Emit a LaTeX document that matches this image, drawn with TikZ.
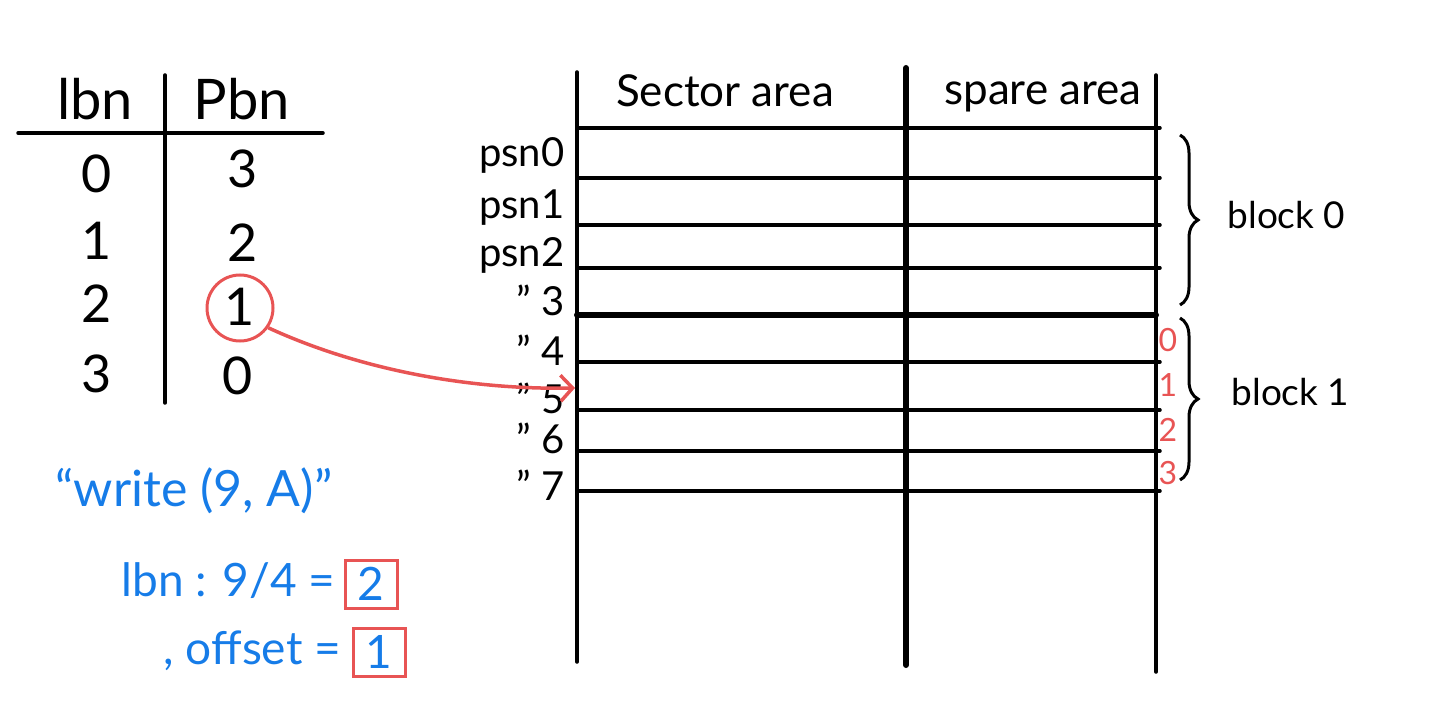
\documentclass[tikz,border=0pt]{standalone}
\usepackage{fontspec}
\setmainfont{Lato}
\usetikzlibrary{decorations.pathreplacing,arrows.meta}
\definecolor{penred}{RGB}{232,84,84}
\definecolor{penblue}{RGB}{22,124,232}
\tikzset{
  ink/.style={line width=3.5pt,line cap=round},
  big/.style={font=\fontsize{56}{60}\selectfont,anchor=base},
  digit/.style={font=\fontsize{52}{56}\selectfont,anchor=base},
  mid/.style={font=\fontsize{44}{48}\selectfont,anchor=base},
  small/.style={font=\fontsize{40}{44}\selectfont},
  blocklabel/.style={font=\fontsize{37}{40}\selectfont,anchor=west},
  rednum/.style={text=penred,font=\fontsize{32}{34}\selectfont},
  bluetext/.style={text=penblue,font=\fontsize{46}{50}\selectfont,anchor=base west},
  redbox/.style={draw=penred,line width=3pt,minimum width=52pt,minimum height=48pt,inner sep=0pt},
  curly/.style={line width=3pt,decorate,decoration={brace,amplitude=18pt}}
}
\begin{document}
\begin{tikzpicture}[x=1pt,y=-1pt]
        \useasboundingbox (0,0) rectangle (1440,719);%
        % mapping table
        \node[big] (lbn) at (95,120) {lbn};%
        \node[big] (pbn) at (242,120) {Pbn};%
        \draw[ink] (18,133) -- (323,133);%
        \draw[ink] (165,75) -- (165,403);%
        \node[digit] (l0) at (97,193) {0};%
        \node[digit] (p0) at (243,188) {3};%
        \node[digit] (l1) at (97,260) {1};%
        \node[digit] (p1) at (243,262) {2};%
        \node[digit] (l2) at (97,322) {2};%
        \node[digit] (p2) at (240,326) {1};%
        \node[digit] (l3) at (97,392) {3};%
        \node[digit] (p3) at (238,394) {0};%
        \node[circle,draw=penred,line width=3pt,minimum size=66pt] (hit) at (240,308) {};%
        % sector grid
        \draw[ink] (577,72) -- (577,662);%
        \draw[ink,line width=6pt] (906,68) -- (906,665);%
        \draw[ink] (1156,75) -- (1156,672);%
        \foreach \y in {128,178,225,268,362,410,451,491}
          \draw[ink] (577,\y) -- (1160,\y);%
        \draw[ink,line width=6pt] (577,315) -- (1156,315);%
        \node[mid] (sector) at (725,107) {Sector area};%
        \node[mid] (spare) at (1043,105) {spare area};%
        % psn labels
        \foreach \y/\t [count=\i from 0] in {155/psn0,208/psn1,255/psn2,300/{" 3},350/{" 4},398/{" 5},438/{" 6},485/{" 7}}
          \node[small,anchor=east] (psn\i) at (568,\y) {\t};%
        \foreach \y [count=\i from 0] in {340,385,430,473}
          \node[rednum] (off\i) at (1168,\y) {\i};%
        % blocks
        \coordinate (b0top) at (1180,135);%
        \coordinate (b0bot) at (1180,305);%
        \coordinate (b1top) at (1180,318);%
        \coordinate (b1bot) at (1180,480);%
        \draw[curly] (b0top) -- (b0bot);%
        \draw[curly] (b1top) -- (b1bot);%
        \node[blocklabel] (block0) at (1224,215) {block 0};%
        \node[blocklabel] (block1) at (1228,392) {block 1};%
        % arrow
        \coordinate (target) at (575,388);%
        \draw[penred,line width=3.5pt,-{Straight Barb[length=12pt,width=26pt]}] (hit.-35) .. controls (360,370) and (470,390) .. (target);%
        % write request
        \node[bluetext,font=\fontsize{50}{54}\selectfont] (req) at (52,506) {“write (9, A)”};%
        \node[bluetext] (calc) at (118,596) {lbn : 9/4 =};%
        \node[bluetext,redbox,anchor=center] (ans) at (371,584) {2};%
        \node[bluetext] (offs) at (160,664) {, offset =};%
        \node[bluetext,redbox,anchor=center] (offv) at (379,652) {1};%
      \end{tikzpicture}
\end{document}
